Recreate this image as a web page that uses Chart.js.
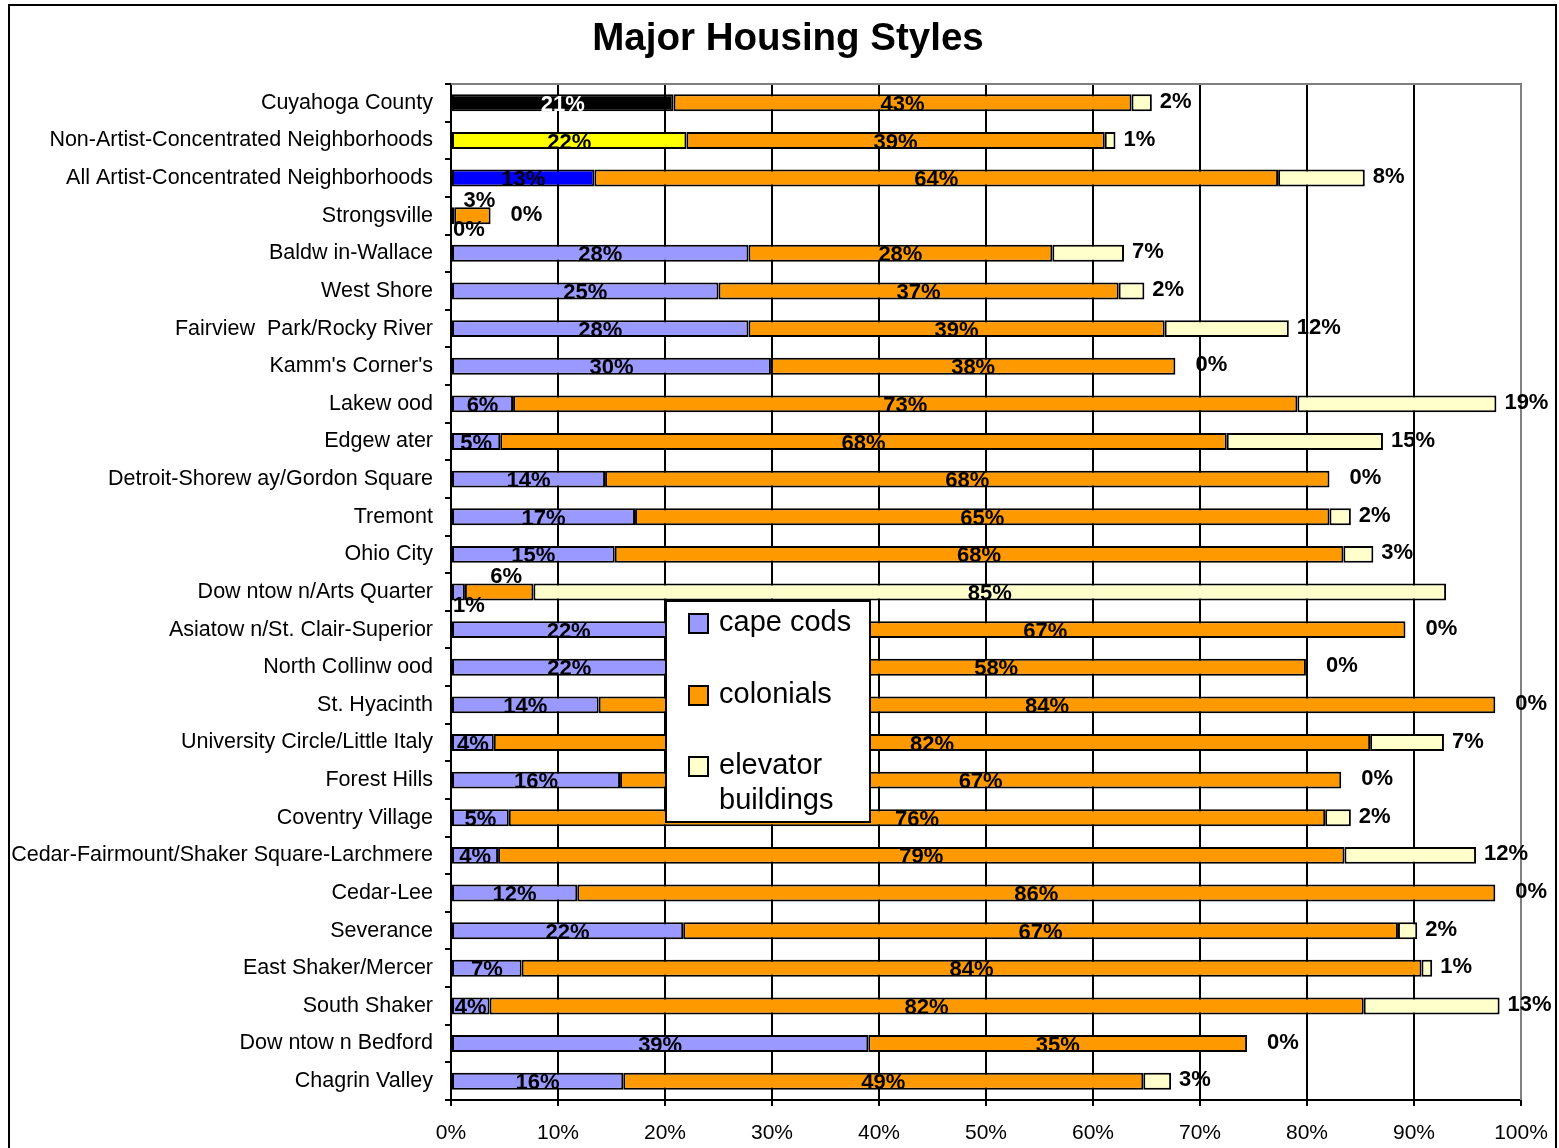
<!DOCTYPE html>
<html>
<head>
<meta charset="utf-8">
<title>Major Housing Styles</title>
<script src="https://cdn.jsdelivr.net/npm/chart.js@4.4.0/dist/chart.umd.min.js"></script>
<style>
  body { margin: 0; background: #fff; }
  canvas { display: block; }
</style>
</head>
<body>
<canvas id="housingChart" width="1559" height="1148"></canvas>
<script>
var categories = [
  'Cuyahoga County', 'Non-Artist-Concentrated Neighborhoods', 'All Artist-Concentrated Neighborhoods',
  'Strongsville', 'Baldw in-Wallace', 'West Shore', 'Fairview  Park/Rocky River', "Kamm's Corner's",
  'Lakew ood', 'Edgew ater', 'Detroit-Shorew ay/Gordon Square', 'Tremont', 'Ohio City',
  'Dow ntow n/Arts Quarter', 'Asiatow n/St. Clair-Superior', 'North Collinw ood', 'St. Hyacinth',
  'University Circle/Little Italy', 'Forest Hills', 'Coventry Village',
  'Cedar-Fairmount/Shaker Square-Larchmere', 'Cedar-Lee', 'Severance', 'East Shaker/Mercer',
  'South Shaker', 'Dow ntow n Bedford', 'Chagrin Valley'
];
var capeCods  = [20.8, 22.0, 13.4, 0.3, 27.8, 25.0, 27.8, 29.9, 5.8, 4.6, 14.4, 17.2, 15.3, 1.3,
                 21.9, 22.0, 13.8, 4.0, 15.8, 5.4, 4.4, 11.8, 21.7, 6.6, 3.6, 39.0, 16.1];
var colonials = [42.8, 39.1, 63.9, 3.4, 28.4, 37.4, 38.9, 37.8, 73.3, 67.9, 67.7, 64.9, 68.1, 6.4,
                 67.3, 57.9, 83.8, 81.9, 67.4, 76.3, 79.1, 85.8, 66.8, 84.1, 81.7, 35.4, 48.6];
var elevator  = [1.9, 1.0, 8.1, 0, 6.7, 2.4, 11.6, 0, 18.6, 14.6, 0, 2.0, 2.8, 85.3,
                 0, 0, 0, 6.9, 0, 2.4, 12.3, 0, 1.8, 1.0, 12.7, 0, 2.6];
var xTicks = [0, 10, 20, 30, 40, 50, 60, 70, 80, 90, 100];

// the three summary rows get their own colour for cape cods
var highlightColors = ['#000000', '#FFFF00', '#0000FF'];
var capeColors = categories.map(function(c, i) {
  return i < highlightColors.length ? highlightColors[i] : '#9999FF';
});

var FONT = '"Liberation Sans", Arial, sans-serif';

var barLabels = {
  id: 'barLabels',
  afterDatasetsDraw: function(chart) {
    var ctx = chart.ctx;
    ctx.save();
    ctx.font = 'bold 22px ' + FONT;
    ctx.textBaseline = 'middle';
    chart.data.datasets.forEach(function(ds, di) {
      var meta = chart.getDatasetMeta(di);
      meta.data.forEach(function(bar, i) {
        var v = ds.data[i];
        var p = bar.getProps(['x', 'y', 'base'], true);
        var bg = Array.isArray(ds.backgroundColor) ? ds.backgroundColor[i] : ds.backgroundColor;
        var x, y = p.y + 2, align = 'center';
        if (di === 2 && v < 50) {
          x = p.x + (v === 0 ? 20 : 8); y = p.y - 1; align = 'left';
        } else if (di === 0 && v < 2) {
          x = p.base + 1; y = p.y + 14; align = 'left';
        } else if (di === 1 && v < 10) {
          x = (p.x + p.base) / 2 + 7; y = p.y - 15;
        } else {
          x = (p.x + p.base) / 2;
        }
        ctx.fillStyle = bg === '#000000' ? '#ffffff' : '#000000';
        ctx.textAlign = align;
        ctx.fillText(Math.round(v) + '%', x, y);
      });
    });
    ctx.restore();
  }
};

var plotFrame = {
  id: 'plotFrame',
  beforeDatasetsDraw: function(chart) {
    var a = chart.chartArea, ctx = chart.ctx;
    ctx.save();
    ctx.strokeStyle = '#808080';
    ctx.lineWidth = 2;
    ctx.beginPath();
    ctx.moveTo(a.left, a.top);
    ctx.lineTo(a.right, a.top);
    ctx.lineTo(a.right, a.bottom);
    ctx.stroke();
    ctx.restore();
  },
  afterDraw: function(chart) {
    var ctx = chart.ctx;
    ctx.save();
    // outer chart border
    ctx.strokeStyle = '#000';
    ctx.lineWidth = 2;
    ctx.strokeRect(9, 5, 1547, 1200);

    // title
    ctx.fillStyle = '#000';
    ctx.font = 'bold 38.5px ' + FONT;
    ctx.textAlign = 'center';
    ctx.textBaseline = 'middle';
    ctx.fillText('Major Housing Styles', 788, 39);

    // legend box
    var lx = 666, ly = 601, lw = 204, lh = 221;
    ctx.fillStyle = '#fff';
    ctx.fillRect(lx, ly, lw, lh);
    ctx.lineWidth = 2;
    ctx.strokeRect(lx, ly, lw, lh);
    ctx.font = '29px ' + FONT;
    ctx.textBaseline = 'middle';
    ctx.textAlign = 'left';
    var rowY = [623, 695, 766];
    chart.data.datasets.forEach(function(ds, di) {
      var y = rowY[di];
      ctx.fillStyle = ds.legendColor;
      ctx.fillRect(689, y - 9, 19, 19);
      ctx.strokeStyle = '#000';
      ctx.lineWidth = 2;
      ctx.strokeRect(689, y - 9, 19, 19);
      // wrap long labels
      var words = ds.label.split(' '), line = '', lines = [];
      words.forEach(function(w) {
        var test = line ? line + ' ' + w : w;
        if (line && ctx.measureText(test).width > 140) { lines.push(line); line = w; }
        else line = test;
      });
      lines.push(line);
      ctx.fillStyle = '#000';
      lines.forEach(function(t, k) { ctx.fillText(t, 719, y + k * 35); });
    });
    ctx.restore();
  }
};

new Chart(document.getElementById('housingChart'), {
  type: 'bar',
  data: {
    labels: categories,
    datasets: [
      { label: 'cape cods', data: capeCods, backgroundColor: capeColors, legendColor: '#9999FF' },
      { label: 'colonials', data: colonials, backgroundColor: '#FF9900', legendColor: '#FF9900' },
      { label: 'elevator buildings', data: elevator, backgroundColor: '#FFFFCC', legendColor: '#FFFFCC' }
    ]
  },
  options: {
    indexAxis: 'y',
    responsive: false,
    animation: false,
    devicePixelRatio: 1,
    layout: { padding: { left: 0, right: 38, top: 84, bottom: 0 } },
    datasets: {
      bar: {
        borderColor: '#000',
        borderWidth: 2,
        borderSkipped: false,
        categoryPercentage: 1,
        barPercentage: 0.45
      }
    },
    scales: {
      x: {
        stacked: true,
        min: 0,
        max: 100,
        afterFit: function(s) { s.height = 48; s.paddingLeft = 0; s.paddingRight = 0; },
        afterBuildTicks: function(s) { s.ticks = xTicks.map(function(v) { return { value: v }; }); },
        ticks: {
          color: '#000',
          padding: 15,
          font: { family: FONT, size: 21 },
          callback: function(v) { return v + '%'; }
        },
        grid: {
          color: function(c) { return c.tick && c.tick.value === 100 ? 'rgba(0,0,0,0)' : '#000'; },
          tickColor: '#000',
          lineWidth: 2,
          tickLength: 6
        },
        border: { color: '#000', width: 2 }
      },
      y: {
        stacked: true,
        afterFit: function(s) { s.width = 451; },
        ticks: {
          color: '#000',
          padding: 12,
          autoSkip: false,
          font: { family: FONT, size: 21.5 }
        },
        grid: {
          drawOnChartArea: false,
          color: '#000',
          lineWidth: 2,
          tickLength: 6
        },
        border: { color: '#000', width: 2 }
      }
    },
    plugins: {
      legend: { display: false },
      tooltip: { enabled: false },
      title: { display: false }
    }
  },
  plugins: [plotFrame, barLabels]
});
</script>
</body>
</html>
